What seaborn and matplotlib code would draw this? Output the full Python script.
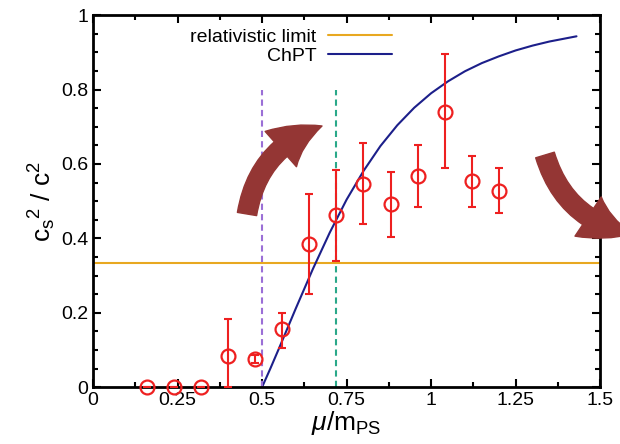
import matplotlib
matplotlib.use("Agg")
import matplotlib.pyplot as plt
import seaborn as sns
import pandas as pd
from matplotlib.patches import FancyArrowPatch
from matplotlib.ticker import MultipleLocator

sns.set_style("ticks")
plt.rcParams['font.family'] = ['Liberation Sans', 'DejaVu Sans']
plt.rcParams['mathtext.fontset'] = 'custom'
plt.rcParams['mathtext.rm'] = 'Liberation Sans'
plt.rcParams['mathtext.it'] = 'Liberation Sans:italic'
plt.rcParams['text.color'] = 'black'
plt.rcParams['axes.labelcolor'] = 'black'

# lattice data: mu/m_PS, c_s^2/c^2 and asymmetric errors
mu = [0.16, 0.24, 0.32, 0.40, 0.48, 0.56, 0.64, 0.72, 0.80, 0.88, 0.96, 1.04, 1.12, 1.20]
cs2 = [0.0, 0.0, 0.0, 0.083, 0.076, 0.156, 0.384, 0.462, 0.546, 0.492, 0.567, 0.740, 0.554, 0.527]
err_lo = [0.0, 0.0, 0.0, 0.083, 0.01, 0.05, 0.134, 0.122, 0.108, 0.089, 0.083, 0.15, 0.07, 0.06]
err_hi = [0.0, 0.0, 0.0, 0.10, 0.01, 0.044, 0.136, 0.121, 0.11, 0.086, 0.083, 0.155, 0.067, 0.062]

# ChPT curve
chpt_mu = [0.5, 0.525, 0.55, 0.575, 0.6, 0.65, 0.7, 0.75, 0.8, 0.85, 0.9, 0.95, 1.0,
           1.05, 1.1, 1.15, 1.2, 1.25, 1.3, 1.35, 1.43]
chpt_cs2 = [0.0, 0.051, 0.104, 0.158, 0.212, 0.317, 0.415, 0.504, 0.581, 0.648, 0.704,
            0.751, 0.790, 0.822, 0.849, 0.871, 0.889, 0.905, 0.918, 0.929, 0.943]

rel_limit = 1 / 3
onset_lines = [0.5, 0.72]
onset_colors = ['#9b6fd6', '#2aa889']

chpt_df = pd.DataFrame({'mu': chpt_mu, 'cs2': chpt_cs2})

fig = plt.figure(figsize=(6.2, 4.44), dpi=100)
ax = fig.add_axes([0.15, 0.128, 0.818, 0.838])

ax.axhline(rel_limit, color='#e8a820', lw=1.5, label='relativistic limit')
sns.lineplot(data=chpt_df, x='mu', y='cs2', ax=ax, color='#1c1f8a', lw=1.5, label='ChPT')

for xv, col in zip(onset_lines, onset_colors):
    ax.plot([xv, xv], [0, 0.8], ls=(0, (3, 2)), color=col, lw=1.5)

ax.errorbar(mu, cs2, yerr=[err_lo, err_hi], fmt='none', ecolor='#ee2020',
            elinewidth=1.5, capsize=3, capthick=1.5, zorder=3)
ax.plot(mu, cs2, 'o', mfc='none', mec='#ee2020', mew=1.6, ms=10, zorder=4, clip_on=False)

ax.set_xlim(0, 1.5)
ax.set_ylim(0, 1)
ax.xaxis.set_minor_locator(MultipleLocator(0.125))
ax.yaxis.set_minor_locator(MultipleLocator(0.05))
ax.set_xticks([0, 0.25, 0.5, 0.75, 1, 1.25, 1.5])
ax.set_xticklabels(['0', '0.25', '0.5', '0.75', '1', '1.25', '1.5'])
ax.set_yticks([0, 0.2, 0.4, 0.6, 0.8, 1])
ax.set_yticklabels(['0', '0.2', '0.4', '0.6', '0.8', '1'])
ax.tick_params(which='both', direction='in', top=True, right=True, width=1.5,
               labelsize=14, colors='black')
ax.tick_params(which='major', length=6)
ax.tick_params(which='minor', length=3.5)
for s in ax.spines.values():
    s.set_linewidth(2)
    s.set_color('black')

ax.set_xlabel(r'$\mu$/m$_\mathrm{PS}$', fontsize=19, labelpad=0)
ax.set_ylabel(r'c$_\mathrm{s}$$^2$ / c$^2$', fontsize=19, labelpad=2)

ax.legend(loc='upper right', bbox_to_anchor=(0.59, 0.965), frameon=False, fontsize=14,
          markerfirst=False, handlelength=3.3, handletextpad=0.6, labelspacing=0.1,
          borderpad=0, borderaxespad=0)

# decorative curved arrows (figure pixel positions)
def px(x, y):
    return (x / 620, 1 - y / 444)

arrow_style = "simple,head_width=34,head_length=34,tail_width=14"
a1 = FancyArrowPatch(px(247, 214), px(322, 126), transform=fig.transFigure,
                     arrowstyle=arrow_style, connectionstyle="arc3,rad=-0.3",
                     color='#943634', mutation_scale=1, shrinkA=0, shrinkB=0, zorder=10)
a2 = FancyArrowPatch(px(545, 155), px(632, 234), transform=fig.transFigure,
                     arrowstyle=arrow_style, connectionstyle="arc3,rad=0.3",
                     color='#943634', mutation_scale=1, shrinkA=0, shrinkB=0, zorder=10)
fig.patches.extend([a1, a2])

fig.savefig('out.png', dpi=100)
